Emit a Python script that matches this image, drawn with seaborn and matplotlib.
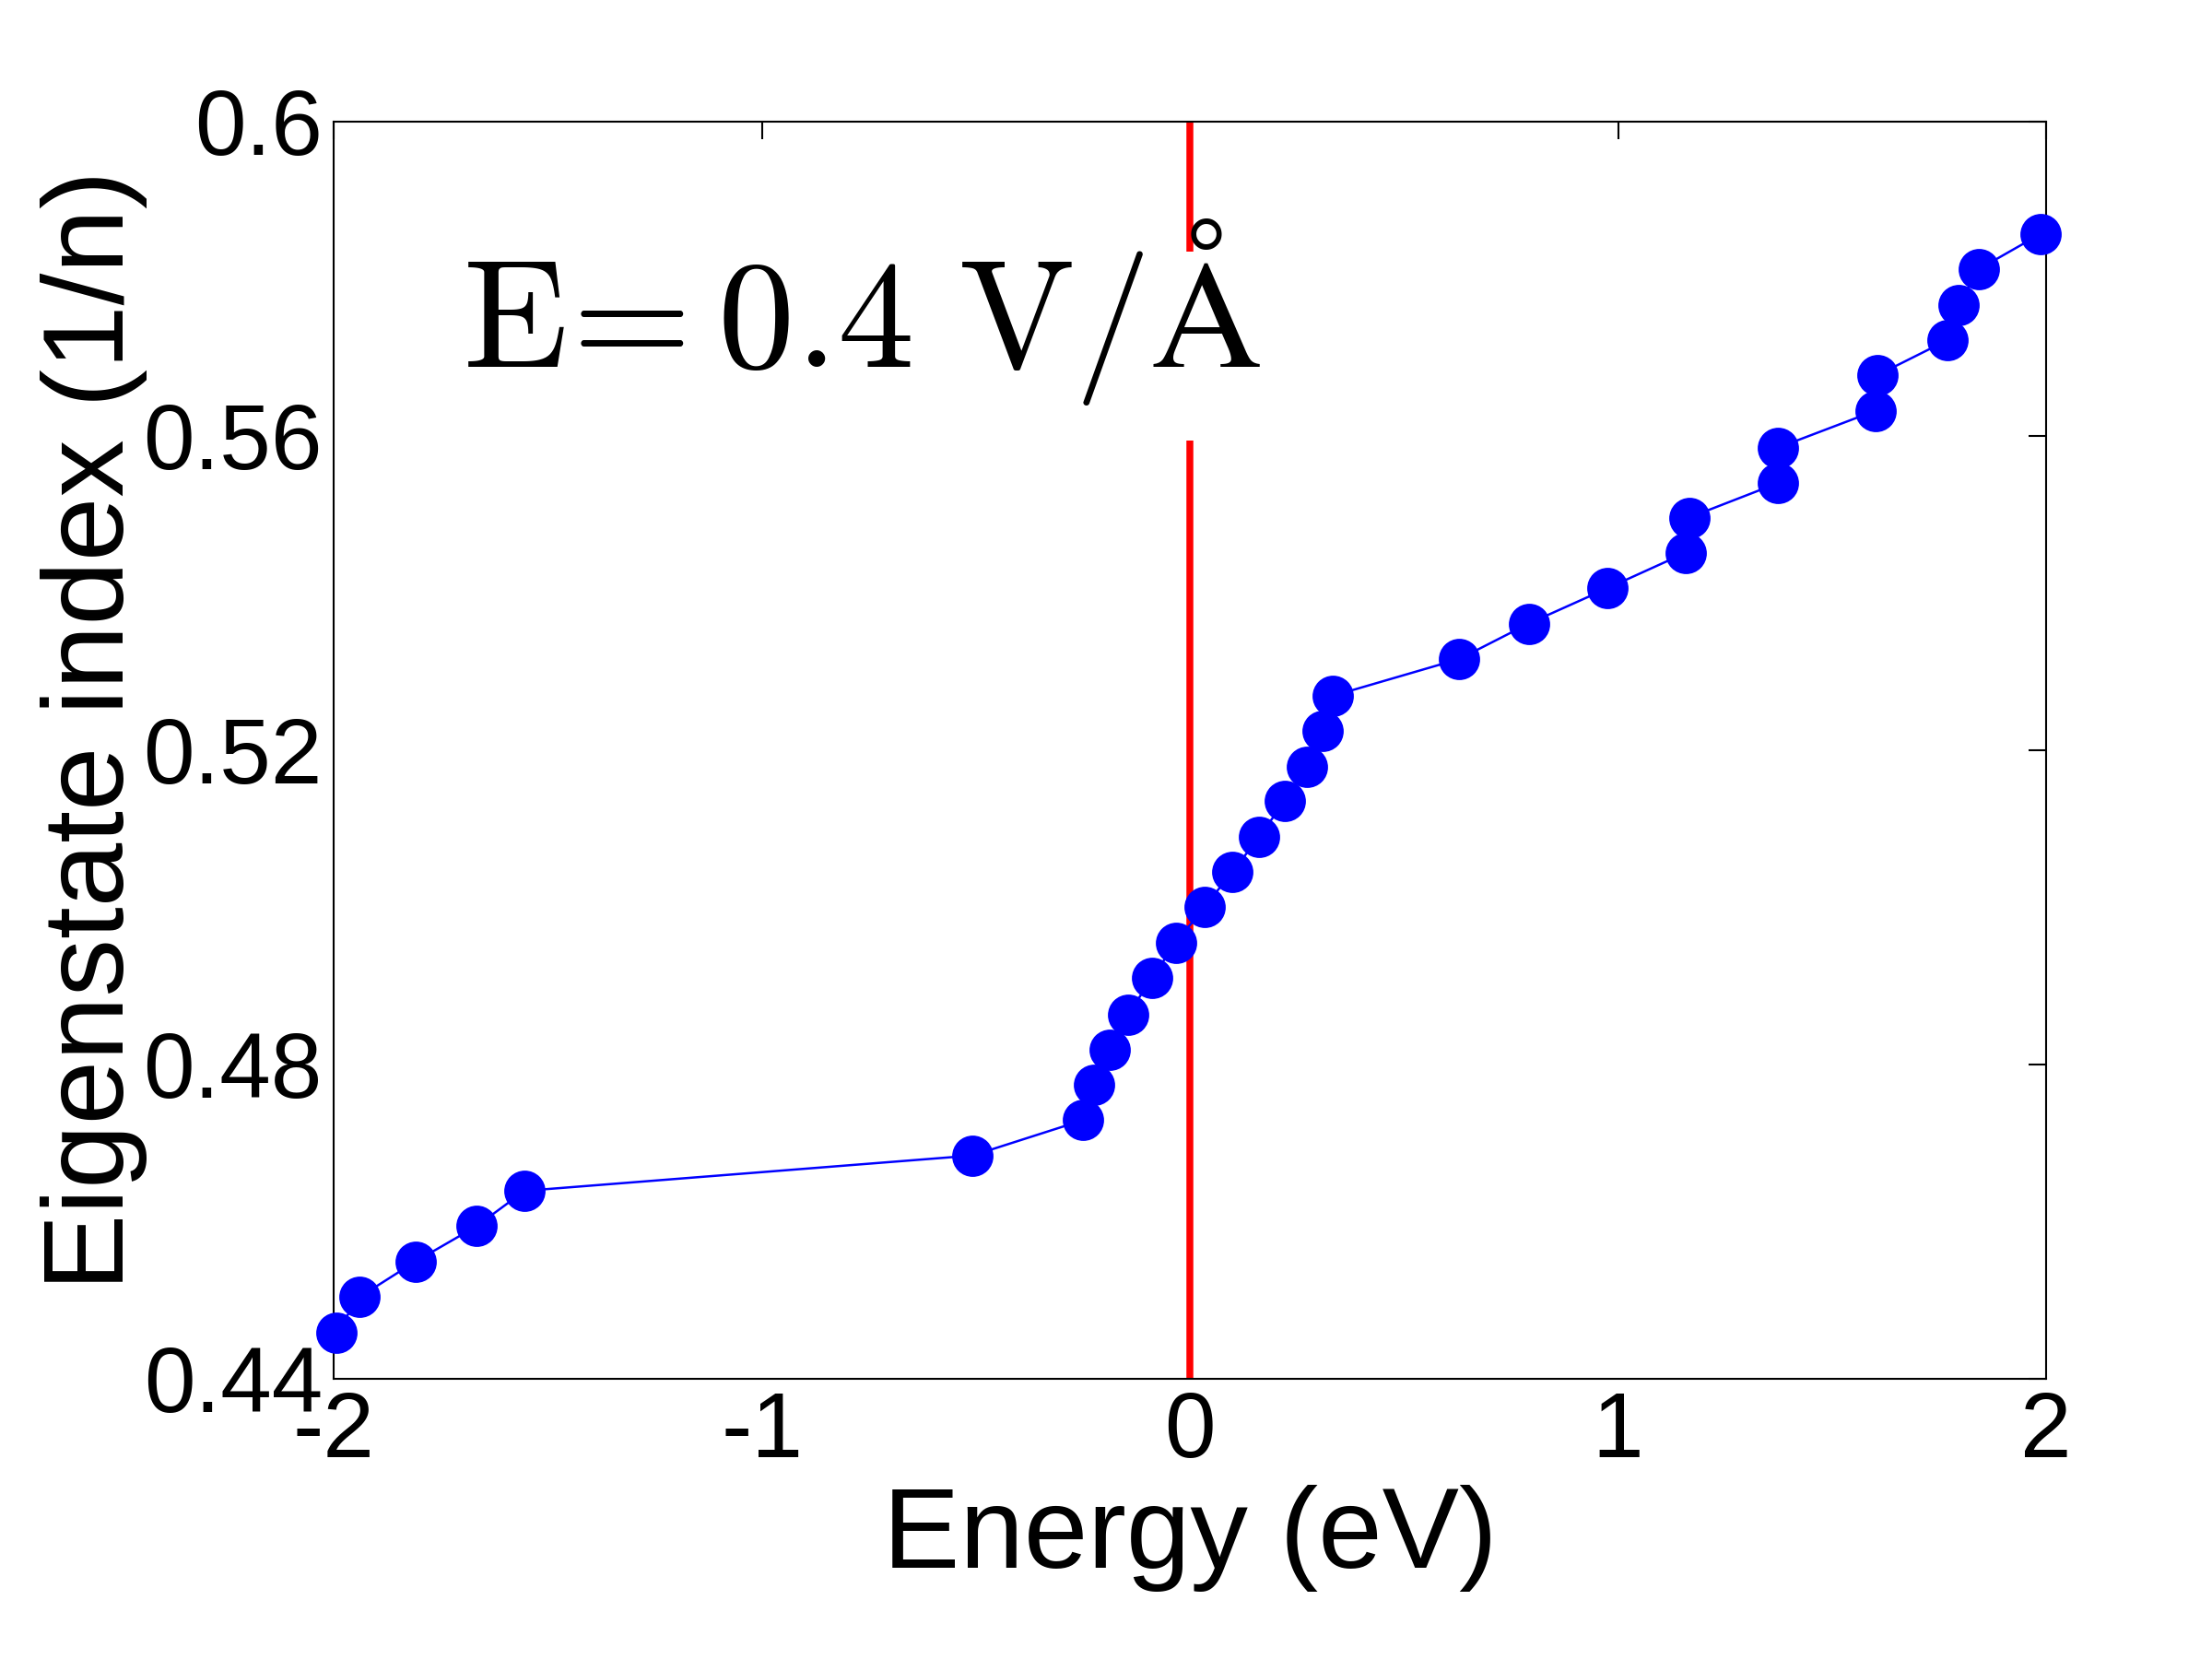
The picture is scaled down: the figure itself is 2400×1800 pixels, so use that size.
import numpy as np
import pandas as pd
import seaborn as sns
import matplotlib
matplotlib.use("Agg")
import matplotlib.pyplot as plt

# valores
energia = [-1.995, -1.94, -1.81, -1.667, -1.555, -0.508, -0.25, -0.224, -0.188, -0.145,
           -0.089, -0.033, 0.033, 0.099, 0.162, 0.221, 0.274, 0.310, 0.333, 0.629,
           0.791, 0.975, 1.157, 1.166, 1.374, 1.374, 1.601, 1.605, 1.770, 1.796,
           1.842, 1.987]
indice = [0.4459, 0.4504, 0.4549, 0.4594, 0.4639, 0.4684, 0.4729, 0.4774, 0.4818, 0.4863,
          0.4910, 0.4955, 0.5000, 0.5045, 0.5090, 0.5135, 0.5179, 0.5224, 0.5269, 0.5316,
          0.5361, 0.5406, 0.5451, 0.5496, 0.5540, 0.5585, 0.5632, 0.5677, 0.5722, 0.5767,
          0.5812, 0.5857]
xticks = [-2, -1, 0, 1, 2]
xlabels = ['-2', '-1', '0', '1', '2']
yticks = [0.44, 0.48, 0.52, 0.56, 0.6]
ylabels = ['0.44', '0.48', '0.52', '0.56', '0.6']
texto = r'$\mathrm{E}\!=\!\!\ 0.4\ \mathrm{V}/\mathrm{\AA}$'
texto_caixa = r'$\mathrm{E}\!=\!\!\ 0.4\ \mathrm{V}/\mathrm{A}$'

df = pd.DataFrame({'Energy': energia, 'Index': indice})

sns.set_style('white')
plt.rcParams['font.family'] = ['Liberation Sans', 'DejaVu Sans']
plt.rcParams['mathtext.fontset'] = 'cm'
plt.rcParams['axes.unicode_minus'] = False
for k in ['text.color', 'axes.labelcolor', 'xtick.color', 'ytick.color', 'axes.edgecolor']:
    plt.rcParams[k] = 'black'

fig = plt.figure(figsize=(8, 6), dpi=300)
ax = fig.add_axes([0.151, 0.169, 0.774, 0.7577])

ax.axvline(0, color='red', lw=1.8, zorder=1)
sns.lineplot(data=df, x='Energy', y='Index', estimator=None, sort=False, ax=ax,
             color='blue', lw=0.6, marker='o', markersize=10,
             markeredgecolor='blue', markerfacecolor='blue', zorder=3, clip_on=False)

# caixa branca por tras do texto (sem o anel do A), um pouco mais baixa
ax.text(-1.70, 0.5665, texto_caixa, fontsize=40, color='none', zorder=2,
        bbox=dict(facecolor='white', edgecolor='none', pad=4))
ax.text(-1.70, 0.5688, texto, fontsize=40, color='black', zorder=2.5)

ax.set_xlim(-2, 2)
ax.set_ylim(0.44, 0.6)
ax.set_xticks(xticks)
ax.set_xticklabels(xlabels)
ax.set_yticks(yticks)
ax.set_yticklabels(ylabels)
ax.tick_params(direction='in', length=4.5, width=0.5, top=True, right=True,
               labelsize=24, pad=3)
for s in ax.spines.values():
    s.set_linewidth(0.5)
ax.set_xlabel('Energy (eV)', fontsize=30, labelpad=2)
ax.set_ylabel('Eigenstate index (1/n)', fontsize=30)
ax.yaxis.set_label_coords(-0.109, 0.516)

fig.savefig('out.png', dpi=300)
